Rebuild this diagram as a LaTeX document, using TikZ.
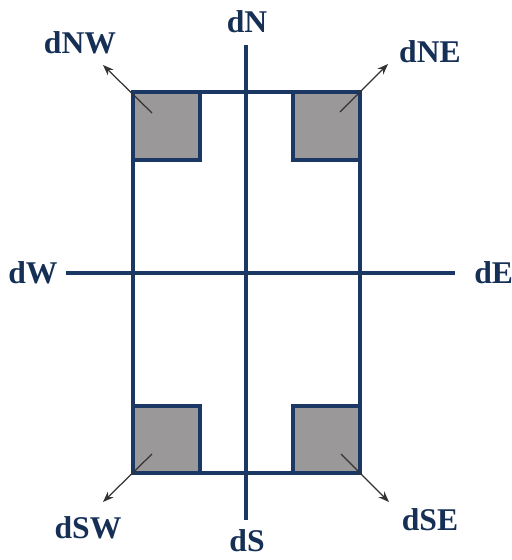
\documentclass[tikz,border=0pt]{standalone}
\usepackage{fontspec}
\setmainfont{Liberation Serif}
\usetikzlibrary{arrows.meta}
\definecolor{framenavy}{HTML}{1B3764}
\definecolor{padgray}{HTML}{9A9898}
\definecolor{labelnavy}{HTML}{152F55}

\begin{document}
\begin{tikzpicture}[x=0.02cm, y=-0.02cm, >=Stealth,
    lbl/.style={font=\bfseries\fontsize{18}{20}\selectfont, text=labelnavy, inner sep=0pt},
    outline/.style={draw=framenavy, line width=2.6pt},
    axisline/.style={draw=framenavy, line width=1.9pt},
    pad/.style={draw=framenavy, line width=2.6pt, fill=padgray},
    dirarrow/.style={->, draw=black!80, line width=0.7pt}]
    \useasboundingbox (0,0) rectangle (511,560);

    % pads in the four corners
    \draw[pad] (133,92) rectangle (200,160);
    \draw[pad] (293,92) rectangle (360,160);
    \draw[pad] (133,406) rectangle (200,473);
    \draw[pad] (293,406) rectangle (360,473);
    \draw[outline] (133,92) rectangle (360,473);

    % labels
    \node[lbl] (dN) at (247,22) {dN};
    \node[lbl] (dS) at (247,541) {dS};
    \node[lbl] (dW) at (33,273) {dW};
    \node[lbl, anchor=west] (dE) at (474,273) {dE};
    \node[lbl] (dNW) at (80,43) {dNW};
    \node[lbl] (dNE) at (430,52) {dNE};
    \node[lbl] (dSW) at (88,528) {dSW};
    \node[lbl] (dSE) at (430,520) {dSE};

    \coordinate (nTop) at (246,45);
    \coordinate (sBot) at (246,520);
    \coordinate (wEnd) at (66,273);
    \coordinate (eEnd) at (455,273);
    \draw[axisline] (nTop) -- (sBot);
    \draw[axisline] (wEnd) -- (eEnd);

    % diagonal directions
    \coordinate (nwIn) at (152,113);
    \coordinate (nwTip) at (103,65);
    \coordinate (neIn) at (340,112);
    \coordinate (neTip) at (388,64);
    \coordinate (swIn) at (152,454);
    \coordinate (swTip) at (103,502);
    \coordinate (seIn) at (341,454);
    \coordinate (seTip) at (389,502);
    \draw[dirarrow] (nwIn) -- (nwTip);
    \draw[dirarrow] (neIn) -- (neTip);
    \draw[dirarrow] (swIn) -- (swTip);
    \draw[dirarrow] (seIn) -- (seTip);
\end{tikzpicture}
\end{document}
